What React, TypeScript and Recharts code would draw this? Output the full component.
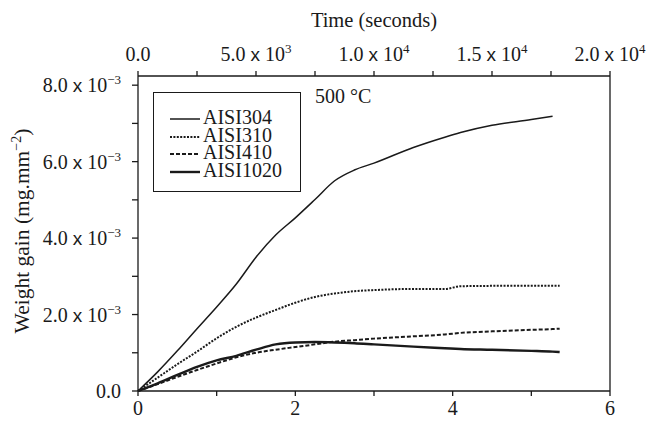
import { LineChart, Line, XAxis, YAxis, ReferenceLine } from "recharts";

// time in hours (bottom axis), weight gain in units of 1e-3 mg.mm^-2
const hours = [0, 0.25, 0.5, 0.75, 1, 1.25, 1.5, 1.75, 2, 2.25, 2.5, 2.75, 3, 3.5, 3.9, 4.1, 4.5, 5, 5.27, 5.36];
const aisi304 = [0, 0.5, 1.05, 1.63, 2.2, 2.8, 3.5, 4.08, 4.53, 5.01, 5.5, 5.78, 5.96, 6.37, 6.64, 6.76, 6.95, 7.1, 7.19, null];
const aisi310 = [0, 0.35, 0.7, 1.03, 1.38, 1.68, 1.92, 2.12, 2.31, 2.46, 2.55, 2.61, 2.64, 2.67, 2.67, 2.74, 2.75, 2.75, 2.75, 2.75];
const aisi410 = [0, 0.18, 0.37, 0.55, 0.72, 0.88, 1.0, 1.08, 1.15, 1.22, 1.29, 1.33, 1.37, 1.43, 1.48, 1.52, 1.56, 1.6, 1.62, 1.63];
const aisi1020 = [0, 0.2, 0.42, 0.63, 0.8, 0.92, 1.08, 1.22, 1.27, 1.28, 1.27, 1.25, 1.22, 1.16, 1.12, 1.1, 1.08, 1.05, 1.03, 1.02];

const hourTicks = [0, 1, 2, 3, 4, 5, 6];
const yTicks = [0, 1, 2, 3, 4, 5, 6, 7, 8];
const secondTicks = [0, 2500, 5000, 7500, 10000, 12500, 15000, 17500, 20000];
const secondsMax = 20000; // top axis spans the same width as 0..6 below

const seriesNames = ["AISI304", "AISI310", "AISI410", "AISI1020"];

const data = hours.map((t, i) => ({
  t,
  AISI304: aisi304[i],
  AISI310: aisi310[i],
  AISI410: aisi410[i],
  AISI1020: aisi1020[i],
}));

const topTickPos = secondTicks.map((s) => (s / secondsMax) * 6);

const INK = "#1a1a1a";
const SERIF = "'Liberation Serif', 'Times New Roman', serif";
const SANS = "'Liberation Sans', Arial, sans-serif";

const styles: Record<string, { w: number; dash?: string }> = {
  AISI304: { w: 1.5 },
  AISI310: { w: 2, dash: "2 1.4" },
  AISI410: { w: 2, dash: "4 2" },
  AISI1020: { w: 2.4 },
};

const YTick = (props: any) => {
  const { x, y, payload } = props;
  const v = payload.value;
  if (v % 2 !== 0) return null;
  if (v === 0) {
    return (
      <text x={x - 9} y={y + 7} textAnchor="end" fontSize={20} fontFamily={SERIF} fill={INK}>
        0.0
      </text>
    );
  }
  return (
    <text x={x - 9} y={y + 7} textAnchor="end" fontSize={20} fontFamily={SERIF} fill={INK}>
      {v.toFixed(1) + " "}
      <tspan fontFamily={SANS} fontSize={19}>x</tspan>
      <tspan> 10</tspan>
      <tspan dy={-8} fontSize={13}>−3</tspan>
    </text>
  );
};

const BottomTick = (props: any) => {
  const { x, payload } = props;
  if (payload.value % 2 !== 0) return null;
  return (
    <text x={x} y={415} textAnchor="middle" fontSize={20} fontFamily={SERIF} fill={INK}>
      {payload.value}
    </text>
  );
};

const TopTick = (props: any) => {
  const { x, payload } = props;
  const v = Math.round((payload.value / 6) * secondsMax);
  if (v % 5000 !== 0) return null;
  if (v === 0) {
    return (
      <text x={x} y={61} textAnchor="middle" fontSize={20} fontFamily={SERIF} fill={INK}>
        0.0
      </text>
    );
  }
  const exp = Math.floor(Math.log10(v));
  const mant = v / Math.pow(10, exp);
  return (
    <text x={x} y={61} textAnchor="middle" fontSize={20} fontFamily={SERIF} fill={INK}>
      {mant.toFixed(1) + " "}
      <tspan fontFamily={SANS} fontSize={19}>x</tspan>
      <tspan> 10</tspan>
      <tspan dy={-8} fontSize={13}>{exp}</tspan>
    </text>
  );
};

const TopTitle = () => (
  <text x={374} y={27} textAnchor="middle" fontSize={20.5} fontFamily={SERIF} fill={INK}>
    Time (seconds)
  </text>
);

const YTitle = () => (
  <text
    x={29}
    y={231}
    transform="rotate(-90, 29, 231)"
    textAnchor="middle"
    fontSize={21.5}
    fontFamily={SERIF}
    fill={INK}
  >
    Weight gain (mg.mm
    <tspan dy={-8} fontSize={14}>−2</tspan>
    <tspan dy={8}>)</tspan>
  </text>
);

const LegendBox = () => (
  <div
    style={{
      position: "absolute",
      left: 153,
      top: 92,
      width: 148,
      height: 100,
      border: `1.3px solid ${INK}`,
      boxSizing: "border-box",
      fontFamily: SERIF,
      fontSize: 20,
      color: INK,
    }}
  >
    {seriesNames.map((name, i) => {
      const s = styles[name];
      return (
        <div
          key={name}
          style={{
            position: "absolute",
            left: 15,
            top: 16 + i * 17.7,
            height: 17,
            lineHeight: "17px",
            whiteSpace: "nowrap",
          }}
        >
          <svg width={32} height={17} style={{ verticalAlign: "top" }}>
            <line x1={1} x2={31} y1={10} y2={10} stroke={INK} strokeWidth={s.w} strokeDasharray={s.dash} />
          </svg>
          <span style={{ marginLeft: 2, verticalAlign: "top" }}>{name}</span>
        </div>
      );
    })}
  </div>
);

export default function App() {
  return (
    <div style={{ position: "absolute", left: 0, top: 0, width: 650, height: 421, background: "#fff" }}>
      <LineChart width={650} height={421} data={data} margin={{ top: 0, right: 40, bottom: 0, left: 0 }}>
        <XAxis
          dataKey="t"
          type="number"
          domain={[0, 6]}
          ticks={hourTicks}
          interval={0}
          height={30}
          axisLine={{ stroke: INK, strokeWidth: 1.3 }}
          tickLine={{ stroke: INK, strokeWidth: 1.3 }}
          tickSize={5}
          tick={<BottomTick />}
        />
        <XAxis
          xAxisId="top"
          dataKey="t"
          orientation="top"
          type="number"
          domain={[0, 6]}
          ticks={topTickPos}
          interval={0}
          height={76}
          axisLine={{ stroke: INK, strokeWidth: 1.3 }}
          tickLine={{ stroke: INK, strokeWidth: 1.3 }}
          tickSize={5}
          tick={<TopTick />}
          label={{ content: <TopTitle /> }}
        />
        <YAxis
          type="number"
          domain={[0, 8.24]}
          ticks={yTicks}
          interval={0}
          width={138}
          axisLine={{ stroke: INK, strokeWidth: 1.3 }}
          tickLine={{ stroke: INK, strokeWidth: 1.3 }}
          tickSize={6}
          tick={<YTick />}
          label={{ content: <YTitle /> }}
        />
        <ReferenceLine x={6} stroke={INK} strokeWidth={1.3} />
        {seriesNames.map((name) => (
          <Line
            key={name}
            type="monotone"
            dataKey={name}
            stroke={INK}
            strokeWidth={styles[name].w}
            strokeDasharray={styles[name].dash}
            dot={false}
            connectNulls
            isAnimationActive={false}
          />
        ))}
      </LineChart>
      <LegendBox />
      <div style={{ position: "absolute", left: 315, top: 84, fontFamily: SERIF, fontSize: 20, color: INK, lineHeight: "24px" }}>
        500 °C
      </div>
    </div>
  );
}
